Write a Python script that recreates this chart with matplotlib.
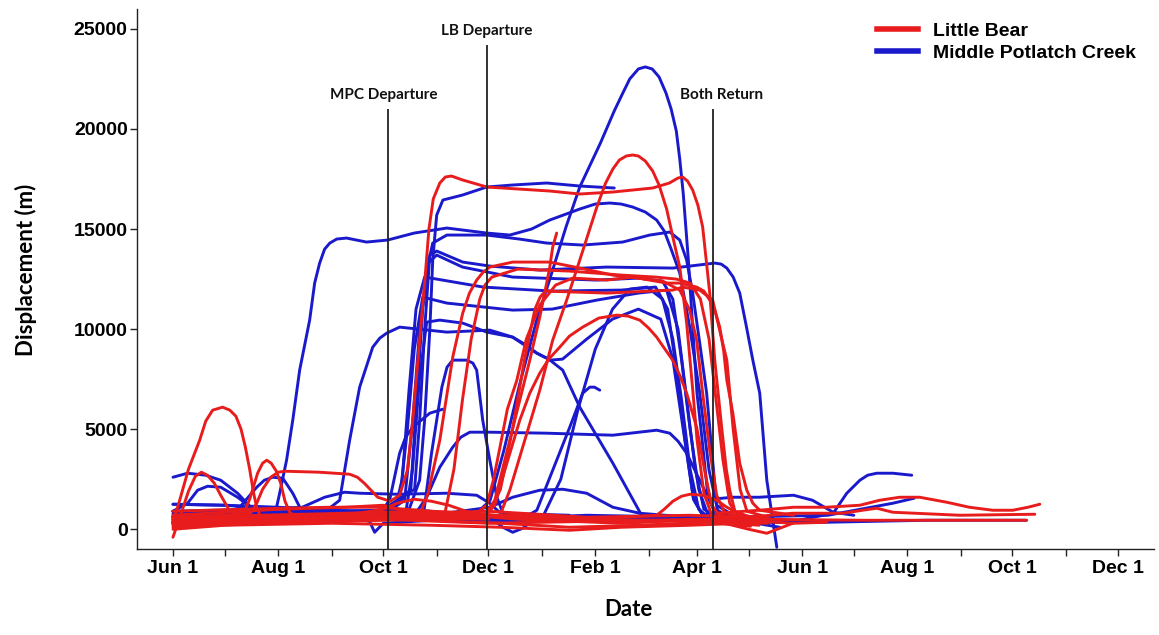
import matplotlib
matplotlib.use("Agg")
import matplotlib.pyplot as plt
from matplotlib.lines import Line2D

# ---------------- axis text / ticks (days after June 1) ----------------
month_ticks = [0, 61, 122, 183, 245, 304, 365, 426, 487, 548]
month_labels = ["Jun 1", "Aug 1", "Oct 1", "Dec 1", "Feb 1", "Apr 1",
                "Jun 1", "Aug 1", "Oct 1", "Dec 1"]
minor_ticks = [30, 92, 153, 214, 276, 334, 395, 457, 518]
y_ticks = [0, 5000, 10000, 15000, 20000, 25000]

event_days = [125, 182, 313]
event_tops = [21000, 24200, 21000]
event_labels = ["MPC Departure", "LB Departure", "Both Return"]
event_label_days = [122, 182, 318]
event_label_heights = [21700, 24900, 21700]

series_names = ["Little Bear", "Middle Potlatch Creek"]

# ---------------- Little Bear tracks (day, displacement m) ----------------
lb_jun_peak = [(0,350),(3.9,1450),(9,3000),(15.5,4450),(19,5400),(23,5950),(28.8,6100),
               (33,5950),(36.5,5650),(39.5,5000),(42,4100),(44.5,3000),(46.8,1800),
               (48.6,1100),(52,400),(70,500),(100,600),(130,700),(160,650),(183,700)]
lb_jun_hump = [(0,-400),(4,600),(9,1900),(13,2650),(16.5,2850),(20,2700),(24,2300),
               (27.7,1700),(33,900),(40,500),(80,500),(120,600),(183,500)]
lb_jul_peak = [(20,500),(40,600),(44.5,1500),(49.1,2800),(52,3300),(54.4,3450),(57,3300),
               (60,2900),(62.5,2300),(65,1400),(68,800),(75,600),(100,700),(122,1000),
               (130,1300),(140,1500),(150,1400),(160,1200),(180,600)]
lb_high = [(0,600),(30,700),(45,800),(48.6,1300),(52,2000),(56.7,2600),(61,2850),(64.8,2900),
           (85,2850),(102.5,2750),(107,2600),(111,2300),(118.8,1600),(126,1400),(131.5,1700),
           (136,2950),(139.1,5450),(143.1,9450),(146,12300),(148.5,15000),(151,16500),
           (154.8,17300),(158,17600),(161.5,17650),(168.1,17450),(182.1,17100),(218.6,16900),
           (236,16750),(255.2,16850),(278.3,17050),(288,17300),(293,17550),(295.7,17600),
           (298.5,17400),(301.5,16950),(304.5,16200),(307.3,15100),(311.4,11800),
           (314.3,8450),(318.3,5100),(321,3000),(323,1950),(326,900),(335,600)]
lb_plateau_a = [(0,400),(60,500),(120,550),(143,700),(148,1800),(154.8,4450),(162.3,8600),
                (168.1,10800),(172,11800),(176.2,12450),(180,12850),(183.8,13100),
                (197.1,13350),(218.6,13350),(236,13050),(255.2,12700),(284.1,12400),
                (294,11950),(299.8,10950),(303.8,9450),(307.3,6800),(311.4,3950),
                (315.4,1700),(320,850),(330,600)]
lb_plateau_b = [(0,200),(80,400),(150,500),(158,900),(163,3000),(168,6500),(173,9500),
                (178,11500),(181,12200),(185,12600),(200,13000),(230,12900),(260,12700),
                (280,12600),(292,12500),(300,12300),(306,11500),(311,9500),(315,6500),
                (319,3500),(323,1300),(328,600),(345,500)]
lb_feb_peak = [(0,500),(100,600),(180,650),(189.7,700),(195.4,1950),(204.1,4450),
               (212.8,6950),(220.3,9450),(228.4,11450),(236,13450),(245.9,16100),
               (251,17300),(255.2,18000),(259,18450),(263,18650),(266.7,18700),(270,18650),
               (274,18400),(278.3,17900),(282,17200),(286.4,16000),(290,14600),(294,13100),
               (298,10300),(301.5,7000),(304,4500),(308,1800),(313,600),(330,500)]
lb_feb_mid = [(0,300),(100,450),(175,600),(181,700),(186.7,1200),(192.5,2950),(201.2,5450),
              (207,6800),(212.8,7800),(218,8500),(224.4,9100),(230,9650),(237.7,10100),
              (247,10550),(257.5,10700),(264,10650),(270.8,10450),(276,10050),(280.6,9600),
              (285,9050),(289.9,8450),(294,7700),(298,6800),(303.8,5100),(308.4,2950),
              (312.5,1200),(317,700),(330,600)]
lb_apr_late = [(0,600),(100,700),(176,800),(182,1200),(186,2500),(189.7,4100),(194,6000),
               (199.5,7450),(205,9500),(212.8,11200),(222,12200),(231.9,12550),
               (251.7,12450),(266.7,12600),(286.4,12300),(294,12300),(303.8,12100),
               (308,11900),(311.4,11450),(314.5,10900),(317.2,10100),(319.5,8900),
               (321.3,7450),(324.8,5800),(328.8,3300),(332.9,1950),(336.4,1300),
               (340.4,950),(360,700)]
lb_short = [(0,400),(100,500),(180,600),(186.7,1450),(192.5,3450),(201.2,6450),(207,8450),
            (212.8,10600),(216.8,12300),(218.6,13100),(220.3,14100),(222.6,14800)]
lb_plateau_c = [(0,300),(100,400),(178,600),(184,900),(190,2000),(197,5000),(204,8500),
                (210,11000),(213,11600),(216,11900),(251.7,11800),(289.9,11950),
                (295.7,12100),(305.6,11950),(313.1,11450),(317,10000),(321.3,8450),
                (325,5000),(329,2000),(333,900),(345,600)]
lb_mar_hump = [(240,500),(280.6,700),(285,1000),(290,1400),(295,1650),(300,1750),
               (307.3,1700),(315.4,1450),(321.3,1100),(330,700),(345,500)]
lb_base_1 = [(0,200),(60,350),(122,500),(183,300),(245,400),(304,500),(330,450),(360,300)]
lb_base_2 = [(0,500),(50,700),(100,800),(140,900),(170,700),(200,500),(260,300),
             (300,450),(340,200)]
lb_base_3 = [(0,100),(40,250),(90,400),(130,700),(160,400),(190,300),(230,100),(270,200),
             (310,350),(335,150)]
lb_base_4 = [(0,700),(61,1000),(100,1100),(122,1200),(140,800),(183,900),(240,600),
             (300,700),(330,600)]
lb_base_5 = [(0,350),(80,500),(122,550),(160,600),(200,700),(250,500),(300,400),(345,300)]
lb_base_6 = [(0,0),(30,200),(92,300),(150,200),(190,100),(230,-50),(260,100),(300,200),
             (330,300)]
lb_base_7 = [(0,900),(40,1000),(90,1100),(120,1100),(150,900),(175,800),(200,600),(240,500)]
lb_summer_wave = [(315,800),(340,950),(360,1100),(379,1100),(398.5,1200),(410,1450),
                  (421.6,1600),(433.2,1600),(448.9,1350),(462,1100),(475.6,950),
                  (487.2,950),(496,1100),(502.9,1250)]
lb_summer_flat = [(320,500),(359.6,800),(388.6,800),(400,950),(408.3,1050),(417.6,850),
                  (456.4,700),(500,750)]
lb_may_dip = [(320,300),(334,0),(344.5,-200),(359.6,300),(379.4,350)]
lb_fall_flat = [(320,600),(340,500),(400,450),(495.3,450)]

# ---------------- Middle Potlatch Creek tracks ----------------
mpc_tallest = [(0,650),(73,850),(143,950),(175,700),(184,1450),(192,3950),(201,7200),
               (211,10450),(219,12600),(228,15100),(236,17100),(248,19300),(256,20900),
               (261,21800),(265,22500),(270,23000),(274,23100),(278,23000),(282,22600),
               (286,21800),(289,21000),(292,19900),(294,18500),(296,16800),(299,13450),
               (301.5,10100),(304,6800),(307,4450),(310,1950),(314,850),(329,550)]
mpc_17k = [(0,800),(100,900),(137,1000),(143.1,2450),(146,5450),(149,9950),(150.7,13450),
           (153,15700),(156.6,16450),(168,16700),(182,17100),(197,17200),(216.8,17300),
           (236,17150),(256,17050)]
mpc_aug_rise = [(0,600),(30,650),(55,800),(60.1,1100),(61.9,1800),(65.9,3450),(69.5,5450),
                (73.5,7950),(79.3,10450),(82.2,12300),(85.1,13300),(88,14000),(91,14300),
                (95,14500),(100.7,14550),(112.3,14350),(124.5,14450),(140,14800),
                (158.9,15050),(182,14800),(195.4,14700),(208,15000),(218.6,15450),
                (236,16000),(245,16250),(253.4,16300),(260,16250),(266.7,16100),
                (274,15850),(280.6,15450),(285,14900),(289,14000),(294,12800),(299.8,10100),
                (305.6,6800),(311,2950),(316,950),(323,600),(340,550)]
mpc_14k = [(0,400),(60,500),(120,600),(134.4,1450),(139.1,5450),(143.1,9950),(147.2,12950),
           (150.7,14300),(158.9,14700),(182,14700),(201,14500),(216.8,14300),(237.7,14200),
           (260.9,14350),(276.6,14700),(288.2,14850),(294,14450),(298,13450),(301.5,11800),
           (305.6,9300),(309.6,6800),(315.4,1200),(325,700)]
mpc_late_return = [(0,1250),(30,1200),(60,1000),(120,900),(140.2,2000),(143.1,5450),
                   (146,9950),(149,13700),(153,13900),(168.1,13350),(183.8,13150),
                   (212.8,12950),(251.7,13100),(290,13050),(309.6,13250),(314.3,13300),
                   (318,13250),(321.3,13050),(325,12600),(328.8,11800),(332.5,10200),
                   (336.4,8450),(340.4,6800),(344.5,2450),(350.3,-900)]
mpc_12k7 = [(0,500),(60,600),(125,800),(138,2000),(141,6000),(144.9,11000),(148,13300),
            (153,13700),(168,13100),(197,12600),(246,12450),(270,12550),(284,12400),
            (290,11500),(295,8500),(300,5000),(305,2000),(310,800),(330,600)]
mpc_12k = [(0,300),(80,500),(128,700),(133,2500),(137,7000),(141,11000),(146,12600),
           (153,12500),(180,12100),(220,11900),(260,11950),(280,12100),(287,11000),
           (292,8000),(297,4500),(302,1500),(308,600),(330,500)]
mpc_11k5 = [(0,900),(60,700),(120,800),(131.5,1450),(136,5000),(140,9000),(144.9,11600),
            (158.9,11300),(197.1,10950),(220,11000),(245.9,11450),(270,11800),
            (286.4,11950),(293,10000),(298,6500),(303,3000),(308,1000),(318,500)]
mpc_sep_rise = [(0,500),(60,700),(90,1000),(96.7,1450),(102.5,4450),(108.3,7100),
                (115.9,9100),(120,9550),(124,9800),(131.5,10100),(158.9,9850),(183.8,9950),
                (197.1,9600),(205,9200),(211.1,8800),(218,8500),(226.1,7950),(236,6100),
                (255.2,3300),(272.5,600),(300,500)]
mpc_10k = [(0,700),(80,600),(135,800),(139,3000),(143,7500),(147.2,10350),(154.8,10450),
           (168.1,10300),(182.1,9850),(197,9600),(211,8800),(219,8450),(226,8500),
           (240,9500),(255,10500),(270,11000),(283,10500),(290,8500),(296,5000),
           (302,1500),(308,600)]
mpc_nov_peak = [(0,400),(100,500),(140,600),(144.9,450),(150,3800),(156,7100),(159,8100),
                (162.3,8450),(170.4,8450),(174,8300),(176.2,7950),(179.7,5450),(183.8,3450),
                (187.9,1600),(191.4,800),(200,600)]
mpc_short_6k = [(0,600),(80,700),(120,800),(125.7,1450),(131.5,3800),(135,4600),
                (139.1,5100),(149,5800),(156.6,6000)]
mpc_4k9 = [(0,300),(100,500),(140,700),(147.2,1600),(154.8,3100),(162.3,4100),(167,4600),
           (172.2,4850),(183.8,4850),(216.8,4800),(255.2,4700),(280.6,4950),(288.2,4800),
           (293,4400),(298,3800),(305.6,2450),(313.1,1100),(320,600)]
mpc_short_7k = [(190,500),(201.2,450),(211.1,950),(220.3,2950),(230.2,5100),(237.7,6800),
                (241.8,7100),(244.5,7100),(247.6,6950)]
mpc_jan_hump = [(150,700),(183.8,1100),(197.1,1600),(212.8,1950),(226.1,2000),(240,1800),
                (255.2,1100),(270.8,800),(300,600)]
mpc_dec_dip = [(120,600),(170,500),(183.8,600),(191.4,100),(197.1,-150),(202.9,50),
               (211.1,600),(240,700),(300,600)]
mpc_1k8 = [(0,900),(50,1000),(75,1100),(88,1600),(99.6,1850),(108.3,1800),(130,1750),
           (158.9,1800),(176.2,1700),(183.8,1300),(190,800),(230,700)]
mpc_jun_2k7 = [(0,2600),(8.5,2800),(19,2700),(27.7,2450),(37.5,1800),(45.1,1100),(55,800),
               (80,700)]
mpc_jun_hump = [(0,900),(8.5,1300),(14.3,1950),(20.1,2150),(27.7,2100),(37.5,1600),
                (45.1,1100),(55,900)]
mpc_aug_hump = [(30,700),(38.7,1100),(48.6,2100),(53,2450),(57.9,2600),(63.7,2550),
                (69.5,1800),(75.3,800),(85,600)]
mpc_mar_arch = [(200,500),(215,700),(225,2500),(235,6000),(245,9000),(255,11000),
                (265,12000),(275,12100),(284,11500),(290,9500),(295,6500),(300,3000),
                (305,1000),(312,500)]
mpc_base_1 = [(0,1250),(30,1200),(61,1100),(100,900),(122,800),(183,600),(240,500),
              (300,450),(330,500),(360,400)]
mpc_base_2 = [(0,600),(50,500),(100,600),(114,400),(117,-150),(122,300),(160,500),
              (183,400),(250,450),(300,500),(340,300)]
mpc_base_3 = [(0,300),(61,400),(122,500),(183,500),(245,600),(304,400),(340,300)]
mpc_base_4 = [(0,900),(40,800),(90,700),(140,600),(200,500),(270,550),(320,600),(345,200),
              (352,100)]
mpc_may_1k6 = [(312,1500),(325,1600),(340,1600),(360,1700),(371,1450),(383,850),(395,700)]
mpc_summer_2k7 = [(320,300),(360,400),(383,800),(390.9,1800),(398.5,2450),(403,2700),
                  (408.3,2800),(417.6,2800),(428.6,2700)]
mpc_fall_flat = [(320,400),(340,350),(379,350),(437,450),(495,450)]
mpc_summer_1k5 = [(320,600),(380,700),(417.6,1300),(430,1550)]

little_bear = [lb_jun_peak, lb_jun_hump, lb_jul_peak, lb_high, lb_plateau_a, lb_plateau_b,
               lb_feb_peak, lb_feb_mid, lb_apr_late, lb_short, lb_plateau_c, lb_mar_hump,
               lb_base_1, lb_base_2, lb_base_3, lb_base_4, lb_base_5, lb_base_6, lb_base_7,
               lb_summer_wave, lb_summer_flat, lb_may_dip, lb_fall_flat]
middle_potlatch = [mpc_tallest, mpc_17k, mpc_aug_rise, mpc_14k, mpc_late_return, mpc_12k7,
                   mpc_12k, mpc_11k5, mpc_sep_rise, mpc_10k, mpc_nov_peak, mpc_short_6k,
                   mpc_4k9, mpc_short_7k, mpc_jan_hump, mpc_dec_dip, mpc_1k8, mpc_jun_2k7,
                   mpc_jun_hump, mpc_aug_hump, mpc_mar_arch, mpc_base_1, mpc_base_2,
                   mpc_base_3, mpc_base_4, mpc_may_1k6, mpc_summer_2k7, mpc_fall_flat,
                   mpc_summer_1k5]

RED = "#e81c1c"
BLUE = "#1a1acc"
LW = 2.1

fig = plt.figure(figsize=(11.59, 6.35), dpi=100)
ax = fig.add_axes([0.118, 0.135, 0.8775, 0.851])

for tr in middle_potlatch:
    ax.plot([p[0] for p in tr], [p[1] for p in tr], color=BLUE, lw=LW,
            solid_joinstyle="round", solid_capstyle="round", zorder=2)
for tr in little_bear:
    ax.plot([p[0] for p in tr], [p[1] for p in tr], color=RED, lw=LW,
            solid_joinstyle="round", solid_capstyle="round", zorder=3)

ax.set_xlim(-21, 569)
ax.set_ylim(-1000, 26000)

# event lines
ymin = -1000
ax.vlines(event_days, ymin, event_tops, color="#222222", lw=1.3, zorder=4)
for d, h, t in zip(event_label_days, event_label_heights, event_labels):
    ax.text(d, h, t, ha="center", va="center", fontsize=11, fontweight="bold",
            family="Lato", color="#111111")

# axes style
for s in ["top", "right"]:
    ax.spines[s].set_visible(False)
for s in ["left", "bottom"]:
    ax.spines[s].set_linewidth(1.0)
    ax.spines[s].set_color("#222222")

ax.set_xticks(month_ticks)
ax.set_xticklabels(month_labels)
ax.set_xticks(minor_ticks, minor=True)
ax.set_yticks(y_ticks)
ax.set_yticklabels([str(v) for v in y_ticks])
ax.tick_params(axis="both", which="both", direction="out", length=5, width=1,
               color="#222222")
ax.tick_params(axis="x", pad=3)
ax.tick_params(axis="y", pad=1.5)
for lab in ax.get_xticklabels() + ax.get_yticklabels():
    lab.set_fontfamily("Liberation Sans")
    lab.set_fontweight("bold")
    lab.set_fontsize(14)

fig.text(26 / 1159, 1 - 270 / 635, "Displacement (m)", rotation=90, ha="center",
         va="center", fontsize=16, fontweight="bold", family="Lato")
fig.text(628 / 1159, 1 - 610 / 635, "Date", ha="center", va="center", fontsize=16,
         fontweight="bold", family="Lato")

handles = [Line2D([], [], color=RED, lw=4), Line2D([], [], color=BLUE, lw=4)]
leg = ax.legend(handles, series_names, loc="upper left",
                bbox_to_anchor=(877 / 1159, 1 - 22 / 635), bbox_transform=fig.transFigure,
                frameon=False, borderpad=0, borderaxespad=0, handlelength=2.1,
                handletextpad=0.8, labelspacing=0.25,
                prop={"family": "Liberation Sans", "weight": "bold", "size": 14})

fig.savefig("out.png", dpi=100)
